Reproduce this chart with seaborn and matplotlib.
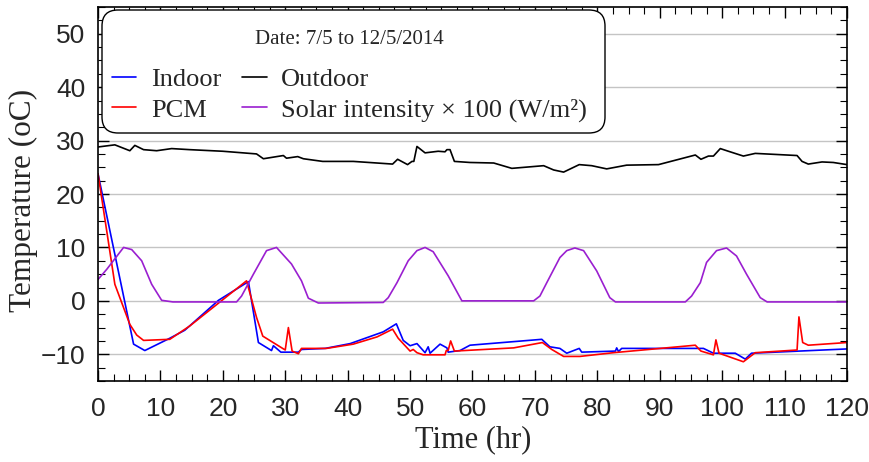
import matplotlib
matplotlib.use("Agg")
import matplotlib.pyplot as plt
from matplotlib.ticker import MultipleLocator
from matplotlib.patches import FancyBboxPatch
import seaborn as sns

# ---- data ----
t_out = [0, 2.7, 5.1, 5.9, 7.3, 9.4, 11.8, 14.7, 20, 25.4, 26.5, 29.7, 30.2, 32, 32.9, 36, 40.9, 44.7, 47.2, 48,
         49.6, 50.3, 50.6, 51.1, 52.4, 54.5, 55.6, 55.9, 56.4, 57.1, 59.6, 63.4, 66.3, 71.4, 73, 74.6, 77.1, 79.1,
         81.5, 84.7, 89.8, 95.7, 96.6, 97.8, 98.6, 99.7, 101, 103.4, 105.3, 112, 112.8, 113.8, 116, 117.8, 120]
outdoor = [28.8, 29.2, 28.1, 29.1, 28.3, 28.1, 28.5, 28.3, 28.0, 27.5, 26.6, 27.2, 26.7, 27.0, 26.6, 26.1, 26.1,
           25.8, 25.6, 26.5, 25.5, 26.1, 26.1, 28.9, 27.7, 28.0, 27.9, 28.3, 28.3, 26.1, 25.9, 25.8, 24.8, 25.3,
           24.5, 24.1, 25.5, 25.3, 24.7, 25.4, 25.5, 27.3, 26.5, 27.1, 27.1, 28.5, 28.0, 27.1, 27.6, 27.2, 26.1,
           25.6, 26.0, 25.9, 25.5]

t_sol = [0, 1.4, 4.1, 5.4, 7, 8.6, 10.2, 12, 22.2, 23, 24.9, 27, 28.6, 31, 32.6, 33.7, 35.3, 45.7, 46.5, 47.9,
         49.7, 51.1, 52.4, 53.7, 56.1, 58.3, 69.8, 70.8, 71.9, 74, 75.1, 76.4, 77.8, 79.9, 82, 82.9, 94.1, 95.1,
         96.5, 97.5, 99.1, 100.7, 102.3, 103.9, 106.1, 107.2, 120]
solar = [4.0, 5.9, 10.0, 9.6, 7.5, 3.1, 0.1, -0.2, -0.2, 0.9, 5.0, 9.4, 10.0, 6.9, 3.75, 0.5, -0.4, -0.3, 0.6,
         3.4, 7.5, 9.4, 10.0, 9.2, 4.7, 0.0, 0.0, 0.9, 3.4, 8.1, 9.4, 9.9, 9.4, 5.6, 0.6, -0.2, -0.2, 0.9, 3.4,
         7.2, 9.4, 9.9, 8.4, 5.0, 0.6, -0.2, -0.2]

t_in = [0, 5.7, 7.5, 11.5, 13.9, 19.3, 24.1, 25.7, 27.8, 28.1, 29.3, 32.1, 32.6, 36.4, 40.4, 45.7, 47.8, 48.9,
        50, 51.1, 52.4, 52.9, 53.2, 54.8, 55.9, 56.1, 58, 59.6, 71.1, 72.4, 74, 75.1, 77.1, 77.5, 82.9, 83.1,
        83.4, 83.9, 97, 98.6, 102.1, 103.7, 104.7, 120]
indoor = [23.8, -8.1, -9.3, -7.0, -5.5, 0.1, 3.6, -7.8, -9.3, -8.4, -9.6, -9.6, -9.1, -8.9, -8.0, -5.8, -4.3,
          -7.4, -8.4, -8.0, -9.7, -8.6, -9.8, -8.1, -8.8, -9.6, -9.3, -8.3, -7.2, -8.6, -8.9, -9.8, -8.9, -9.6,
          -9.4, -8.8, -9.5, -8.9, -8.9, -9.8, -9.8, -10.9, -9.8, -9.0]

t_pcm = [0, 2.7, 5.1, 6.2, 7.3, 11.5, 14.7, 23.8, 25.4, 26.4, 30, 30.5, 31.1, 32.1, 32.6, 36.6, 40.9, 44.7,
         47.2, 48.1, 50, 50.5, 51.1, 52.1, 55.6, 55.8, 56.1, 56.5, 57.1, 66.6, 71.2, 72.7, 74.6, 77.2, 82.6,
         95.7, 96.6, 98.6, 99, 99.5, 103.4, 105.3, 112, 112.3, 112.9, 113.8, 120]
pcm = [23.8, 3.1, -4.4, -6.4, -7.4, -7.2, -4.7, 3.75, -3.1, -6.6, -9.2, -5.0, -9.4, -9.9, -8.9, -8.9, -8.1,
       -6.75, -5.3, -7.0, -9.4, -9.1, -9.7, -10.1, -10.1, -9.3, -9.3, -7.5, -9.4, -8.8, -7.8, -9.1, -10.4,
       -10.4, -9.7, -8.3, -9.4, -10.1, -7.3, -9.8, -11.4, -9.7, -9.2, -3.0, -7.8, -8.3, -7.8]

x_ticks = [0, 10, 20, 30, 40, 50, 60, 70, 80, 90, 100, 110, 120]
y_ticks = [-10, 0, 10, 20, 30, 40, 50]

# ---- style ----
sns.set_theme(style="white")
plt.rcParams['font.family'] = ['Liberation Serif', 'DejaVu Serif']

fig = plt.figure(figsize=(8.7, 4.62), dpi=100)
ax = fig.add_axes([98 / 870, 1 - 381 / 462, 749 / 870, 374 / 462])

sns.lineplot(x=t_in, y=indoor, color='#0000ff', lw=1.2, label='Indoor', estimator=None, sort=False, ax=ax)
sns.lineplot(x=t_pcm, y=pcm, color='#ff0000', lw=1.2, label='PCM', estimator=None, sort=False, ax=ax)
sns.lineplot(x=t_out, y=outdoor, color='black', lw=1.2, label='Outdoor', estimator=None, sort=False, ax=ax)
sns.lineplot(x=t_sol, y=solar, color='#9a1fd0', lw=1.2, label='Solar intensity × 100 (W/m²)',
             estimator=None, sort=False, ax=ax)

ax.set_xlim(0, 120)
ax.set_ylim(-15, 55)
ax.set_xticks(x_ticks)
ax.set_yticks(y_ticks)
ax.xaxis.set_minor_locator(MultipleLocator(2.5))
ax.yaxis.set_minor_locator(MultipleLocator(2.5))
ax.tick_params(which='both', direction='in', top=True, right=True, bottom=True, left=True, color='black')
ax.tick_params(which='major', length=8, width=1)
ax.tick_params(which='minor', length=5, width=0.8)
ax.tick_params(axis='both', which='major', labelsize=19)
ax.tick_params(axis='x', which='major', pad=11.5)
ax.tick_params(axis='y', which='major', pad=9)
for lab in ax.get_xticklabels() + ax.get_yticklabels():
    lab.set_fontfamily(['Liberation Sans', 'DejaVu Sans'])
ax.grid(axis='y', which='major', color='#c4c4c4', lw=1)
ax.grid(axis='x', visible=False)
for s in ax.spines.values():
    s.set_color('black')
    s.set_linewidth(1.2)

ax.set_xlabel('Time (hr)', fontsize=22)
ax.xaxis.set_label_coords(0.501, -0.118)
ax.set_ylabel('Temperature (oC)', fontsize=22.5)
ax.yaxis.set_label_coords(-0.080, 0.484)

# rounded legend frame (figure inches)
frame = FancyBboxPatch((1.02, 3.29), 5.03, 1.23, boxstyle='round,pad=0,rounding_size=0.16',
                       transform=fig.dpi_scale_trans, facecolor='white', edgecolor='black',
                       lw=1.0, zorder=4.5, clip_on=False)
ax.add_artist(frame)

leg = ax.legend(loc='upper left', bbox_to_anchor=(0.0187, 0.9385), ncol=2, fontsize=19,
                title='Date: 7/5 to 12/5/2014', title_fontsize=15, frameon=False,
                handlelength=0.92, handletextpad=0.55,
                columnspacing=0.8, labelspacing=0.26, borderpad=0, borderaxespad=0)
leg.set_zorder(5)
leg._legend_box.sep = 13.5

fig.savefig('out.png', dpi=100)
